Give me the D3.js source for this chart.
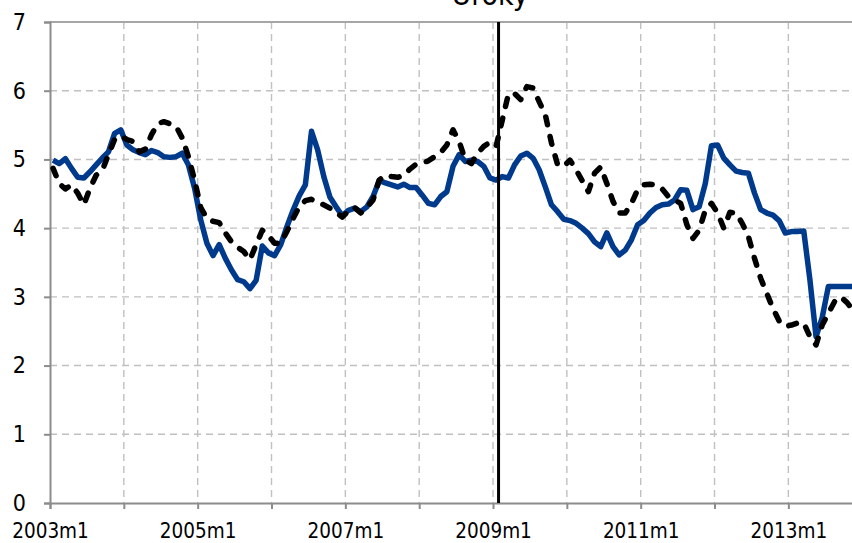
<!DOCTYPE html>
<html>
<head>
<meta charset="utf-8">
<script src="https://cdn.jsdelivr.net/npm/d3@7/dist/d3.min.js"></script>
<style>
  html, body { margin: 0; padding: 0; background: #fff; overflow: hidden; }
  svg { display: block; }
  text { font-family: "DejaVu Sans Condensed", "DejaVu Sans", sans-serif; fill: #000; }
</style>
</head>
<body>
<svg id="chart" width="852" height="543"></svg>
<script>
// ---- Data ----
const title = "Úroky";
const startYear = 2003;
const nMonths = 132;
const categories = [];
for (let i = 0; i < nMonths; i++) {
  categories.push((startYear + Math.floor(i / 12)) + "m" + (i % 12 + 1));
}
const xTickLabels = ["2003m1", "2005m1", "2007m1", "2009m1", "2011m1", "2013m1"];
const xGridCategories = ["2003m1","2004m1","2005m1","2006m1","2007m1","2008m1","2009m1","2010m1","2011m1","2012m1","2013m1","2014m1"];
const yTicks = [0, 1, 2, 3, 4, 5, 6, 7];
const markerCategory = "2009m1";

const seriesSolid = [
  4.99, 4.94, 5.01, 4.87, 4.74, 4.73, 4.82, 4.92, 5.02, 5.11, 5.38, 5.43,
  5.21, 5.14, 5.10, 5.07, 5.13, 5.10, 5.04, 5.03, 5.04, 5.09, 4.92, 4.58,
  4.12, 3.78, 3.60, 3.76, 3.56, 3.39, 3.25, 3.22, 3.12, 3.24, 3.74, 3.64,
  3.60, 3.76, 4.02, 4.26, 4.47, 4.63, 5.41, 5.14, 4.75, 4.45, 4.31, 4.18,
  4.26, 4.29, 4.24, 4.31, 4.46, 4.69, 4.66, 4.63, 4.60, 4.64, 4.59, 4.59,
  4.48, 4.36, 4.34, 4.46, 4.53, 4.90, 5.07, 4.97, 4.99, 4.97, 4.90, 4.73,
  4.70, 4.75, 4.73, 4.92, 5.05, 5.09, 5.02, 4.85, 4.60, 4.34, 4.24, 4.13,
  4.11, 4.07, 4.00, 3.92, 3.80, 3.73, 3.93, 3.73, 3.61, 3.68, 3.83, 4.05,
  4.11, 4.22, 4.30, 4.34, 4.35, 4.41, 4.56, 4.55, 4.27, 4.31, 4.65, 5.20,
  5.21, 5.02, 4.92, 4.83, 4.81, 4.80, 4.51, 4.27, 4.22, 4.19, 4.11, 3.93,
  3.95, 3.95, 3.96, 3.25, 2.42, 2.70, 3.15, 3.15, 3.15, 3.15, 3.15, 3.15
];
const seriesDashed = [
  4.87, 4.65, 4.57, 4.63, 4.51, 4.34, 4.58, 4.77, 4.84, 5.07, 5.29, 5.34,
  5.29, 5.26, 5.11, 5.15, 5.36, 5.52, 5.55, 5.52, 5.48, 5.31, 5.04, 4.70,
  4.30, 4.14, 4.10, 4.08, 3.93, 3.80, 3.72, 3.66, 3.54, 3.76, 3.97, 3.89,
  3.78, 3.78, 3.95, 4.14, 4.31, 4.40, 4.42, 4.37, 4.34, 4.29, 4.23, 4.16,
  4.25, 4.30, 4.22, 4.30, 4.41, 4.70, 4.77, 4.75, 4.74, 4.77, 4.86, 4.93,
  4.95, 4.98, 5.04, 5.10, 5.21, 5.43, 5.26, 4.99, 4.94, 5.09, 5.19, 5.25,
  5.19, 5.57, 5.95, 5.96, 5.87, 6.06, 6.04, 5.84, 5.65, 5.24, 4.92, 4.90,
  4.99, 4.85, 4.69, 4.53, 4.80, 4.89, 4.65, 4.39, 4.22, 4.22, 4.36, 4.56,
  4.63, 4.64, 4.63, 4.57, 4.46, 4.41, 4.36, 4.05, 3.85, 3.97, 4.26, 4.36,
  4.22, 4.00, 4.23, 4.22, 4.07, 3.88, 3.56, 3.27, 3.05, 2.83, 2.65, 2.57,
  2.59, 2.62, 2.62, 2.42, 2.30, 2.59, 2.76, 2.93, 3.00, 2.92, 2.81, 2.75
];

// ---- Layout ----
const svg = d3.select("#chart");
const plotLeft = 50, plotTop = 22, plotBottom = 503;
const monthPx = 6.153;
const allCats = categories.concat(["2014m1"]);

const xEdge = d3.scaleLinear().domain([0, nMonths]).range([plotLeft, plotLeft + nMonths * monthPx]);
const xPos = cat => xEdge(allCats.indexOf(cat));
const xPoint = i => xEdge(i + 0.5);
const y = d3.scaleLinear().domain([0, 7]).range([plotBottom, plotTop]);

const gridColor = "#c0c0c0";
const axisColor = "#8c8c8c";
const fontStack = '"DejaVu Sans Condensed","DejaVu Sans",sans-serif';

// vertical grid lines
svg.append("g").selectAll("line")
  .data(xGridCategories.slice(1))
  .join("line")
  .attr("x1", d => xPos(d)).attr("x2", d => xPos(d))
  .attr("y1", plotTop).attr("y2", plotBottom)
  .attr("stroke", gridColor).attr("stroke-width", 1.4)
  .attr("stroke-dasharray", "7,5");

// horizontal grid lines
svg.append("g").selectAll("line")
  .data(yTicks.filter(d => d > 0 && d < 7))
  .join("line")
  .attr("x1", plotLeft).attr("x2", 852)
  .attr("y1", d => y(d)).attr("y2", d => y(d))
  .attr("stroke", gridColor).attr("stroke-width", 1.4)
  .attr("stroke-dasharray", "7,5");

// top line (7)
svg.append("line")
  .attr("x1", plotLeft).attr("x2", 852)
  .attr("y1", y(7)).attr("y2", y(7))
  .attr("stroke", "#a6a6a6").attr("stroke-width", 2);

// y axis
const yAxis = d3.axisLeft(y).tickValues(yTicks).tickSize(6).tickPadding(6).tickFormat(d3.format("d"));
const gy = svg.append("g").attr("transform", `translate(${plotLeft},0)`).call(yAxis);
gy.select(".domain").attr("stroke", axisColor).attr("stroke-width", 2);
gy.selectAll(".tick line").attr("stroke", axisColor).attr("stroke-width", 2);
gy.selectAll(".tick text").attr("font-size", 23).attr("x", -24)
  .style("font-family", fontStack).attr("fill", "#000");

// x axis
const xAxisScale = d3.scalePoint().domain(xGridCategories).range([xPos("2003m1"), xPos("2014m1")]);
const xAxis = d3.axisBottom(xAxisScale).tickSize(6).tickPadding(14)
  .tickFormat(d => xTickLabels.includes(d) ? d : "");
const gx = svg.append("g").attr("transform", `translate(0,${plotBottom})`).call(xAxis);
gx.select(".domain").attr("stroke", axisColor).attr("stroke-width", 2);
gx.selectAll(".tick line").attr("stroke", axisColor).attr("stroke-width", 2);
gx.selectAll(".tick text").attr("font-size", 20.5)
  .style("font-family", fontStack).attr("fill", "#000");

// lines
const line = d3.line().x((d, i) => xPoint(i)).y(d => y(d));

svg.append("path").datum(seriesSolid)
  .attr("d", line).attr("fill", "none")
  .attr("stroke", "#003a8c").attr("stroke-width", 5.5)
  .attr("stroke-linejoin", "round");

svg.append("path").datum(seriesDashed)
  .attr("d", line).attr("fill", "none")
  .attr("stroke", "#000").attr("stroke-width", 5.5)
  .attr("stroke-linecap", "round").attr("stroke-linejoin", "round")
  .attr("stroke-dasharray", "8,12");

// vertical marker line
const mx = xEdge(allCats.indexOf(markerCategory) + 0.9);
svg.append("line")
  .attr("x1", mx).attr("x2", mx).attr("y1", plotTop).attr("y2", plotBottom)
  .attr("stroke", "#000").attr("stroke-width", 3);

// title
svg.append("text")
  .attr("x", 490).attr("y", 5)
  .attr("text-anchor", "middle").attr("font-size", 30)
  .style("font-family", fontStack)
  .text(title);
</script>
</body>
</html>
